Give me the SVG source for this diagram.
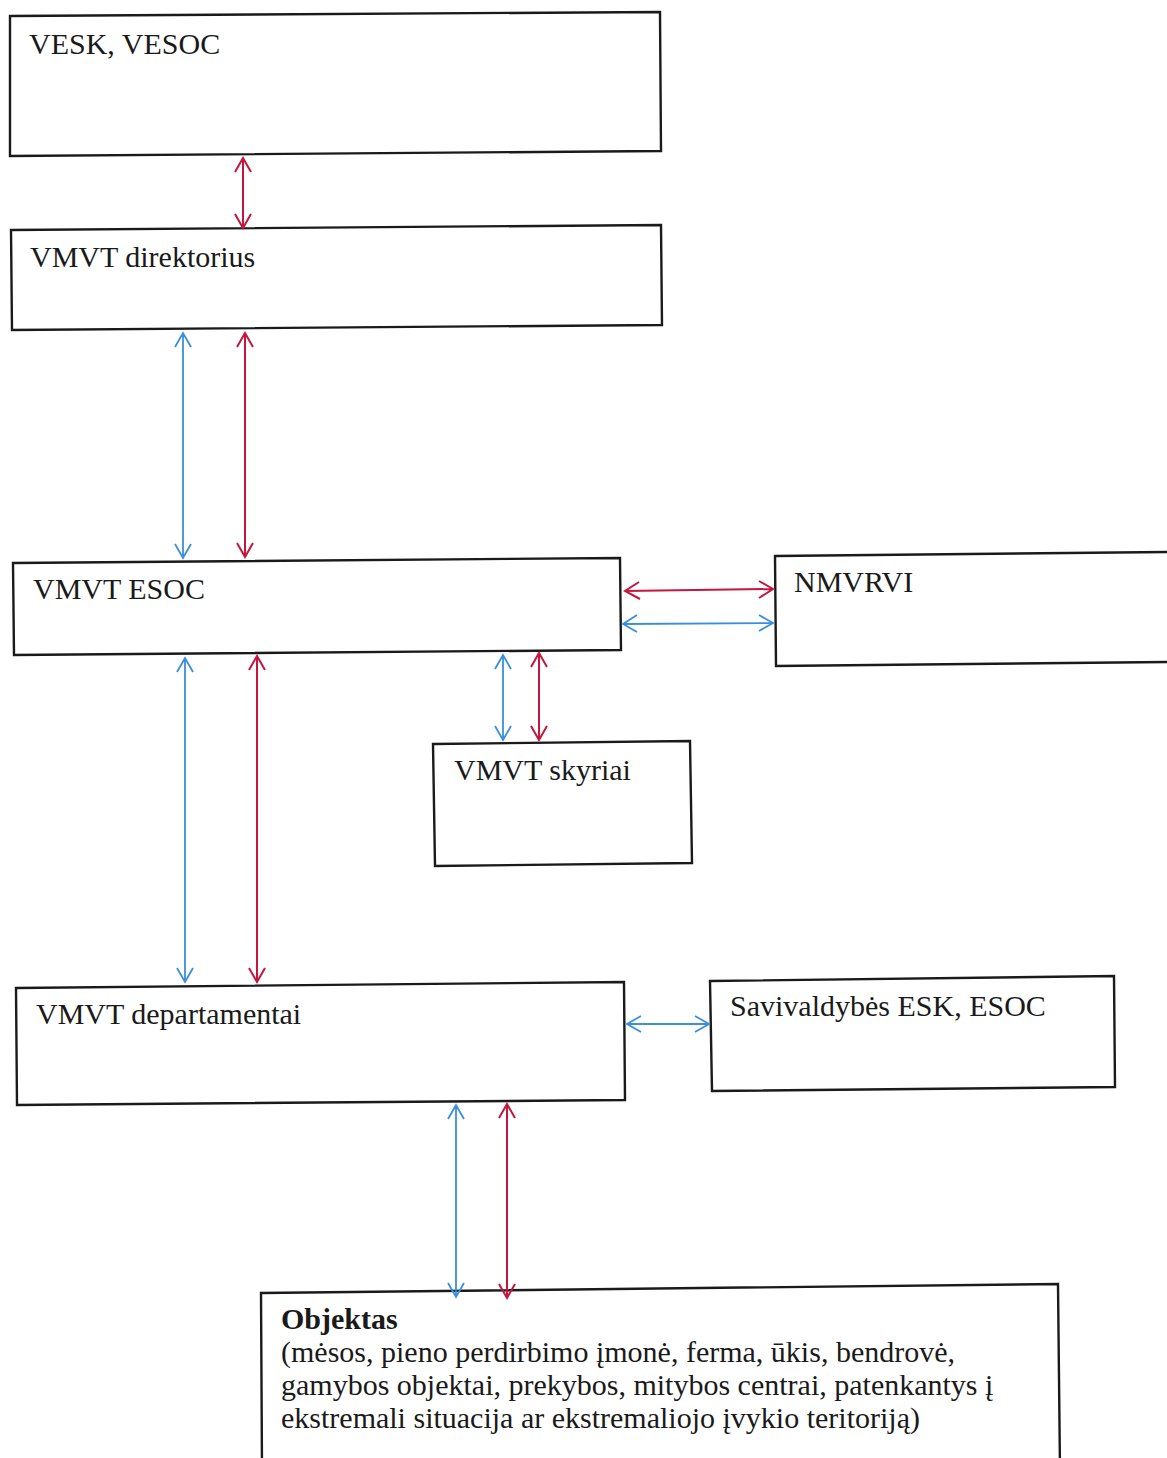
<svg xmlns="http://www.w3.org/2000/svg" width="1167" height="1458" viewBox="0 0 1167 1458">
<style>
.box{fill:#fff;stroke:#1a1a1a;stroke-width:2.4}
.t{font-family:"Liberation Serif","Times New Roman",serif;font-size:30px;fill:#1a1a1a}
.b{font-weight:bold}
.r{stroke:#c4173f;stroke-width:2;fill:none}
.bl{stroke:#3b8fda;stroke-width:1.8;fill:none}
</style>
<rect width="1167" height="1458" fill="#fff"/>
<g id="n-vesk"><polygon class="box" points="10,16 660,12 661,151 10,156"/><text class="t" x="29" y="54">VESK, VESOC</text></g>
<g id="n-dir"><polygon class="box" points="11,230 661,225 662,325 12,330"/><text class="t" x="30" y="267">VMVT direktorius</text></g>
<g id="n-esoc"><polygon class="box" points="13,563 620,558 621,650 14,655"/><text class="t" x="33" y="599">VMVT ESOC</text></g>
<g id="n-nmvrvi"><polygon class="box" points="775,556 1170,552 1170,662 776,666"/><text class="t" x="794" y="592">NMVRVI</text></g>
<g id="n-sky"><polygon class="box" points="433,744 690,741 692,863 435,866"/><text class="t" x="454" y="780">VMVT skyriai</text></g>
<g id="n-dep"><polygon class="box" points="16,988 624,982 625,1100 17,1105"/><text class="t" x="36" y="1024">VMVT departamentai</text></g>
<g id="n-sav"><polygon class="box" points="710,981 1114,976 1115,1087 712,1091"/><text class="t" x="730" y="1016">Savivaldybės ESK, ESOC</text></g>
<g id="n-obj"><polygon class="box" points="261,1293 1058,1284 1060,1470 262,1470"/>
<text class="t"><tspan class="b" x="281" y="1329">Objektas</tspan><tspan x="281" y="1362">(mėsos, pieno perdirbimo įmonė, ferma, ūkis, bendrovė,</tspan><tspan x="281" y="1395">gamybos objektai, prekybos, mitybos centrai, patenkantys į</tspan><tspan x="281" y="1428">ekstremali situacija ar ekstremaliojo įvykio teritoriją)</tspan></text></g>
<g id="connectors">
<path class="r" d="M243,158V228M235,172L243,158L251,172M235,214L243,228L251,214"/>
<path class="bl" d="M183,333V558M175,347L183,333L191,347M175,544L183,558L191,544"/>
<path class="r" d="M245,333V557M237,347L245,333L253,347M237,543L245,557L253,543"/>
<path class="bl" d="M185,658V982M177,672L185,658L193,672M177,968L185,982L193,968"/>
<path class="r" d="M257,656V982M249,670L257,656L265,670M249,968L257,982L265,968"/>
<path class="bl" d="M503,655V740M495,669L503,655L511,669M495,726L503,740L511,726"/>
<path class="r" d="M539,653V740M531,667L539,653L547,667M531,726L539,740L547,726"/>
<path class="r" d="M625,591L773,589M639,582L625,591L640,599M759,581L773,589L759,598"/>
<path class="bl" d="M623,624L773,623M637,615L623,624L637,632M759,615L773,623L759,631"/>
<path class="bl" d="M627,1024L709,1024M641,1016L627,1024L641,1032M695,1016L709,1024L695,1032"/>
<path class="bl" d="M456,1105V1297M448,1119L456,1105L464,1119M448,1283L456,1297L464,1283"/>
<path class="r" d="M507,1104V1298M499,1118L507,1104L515,1118M499,1284L507,1298L515,1284"/>
</g>
</svg>
